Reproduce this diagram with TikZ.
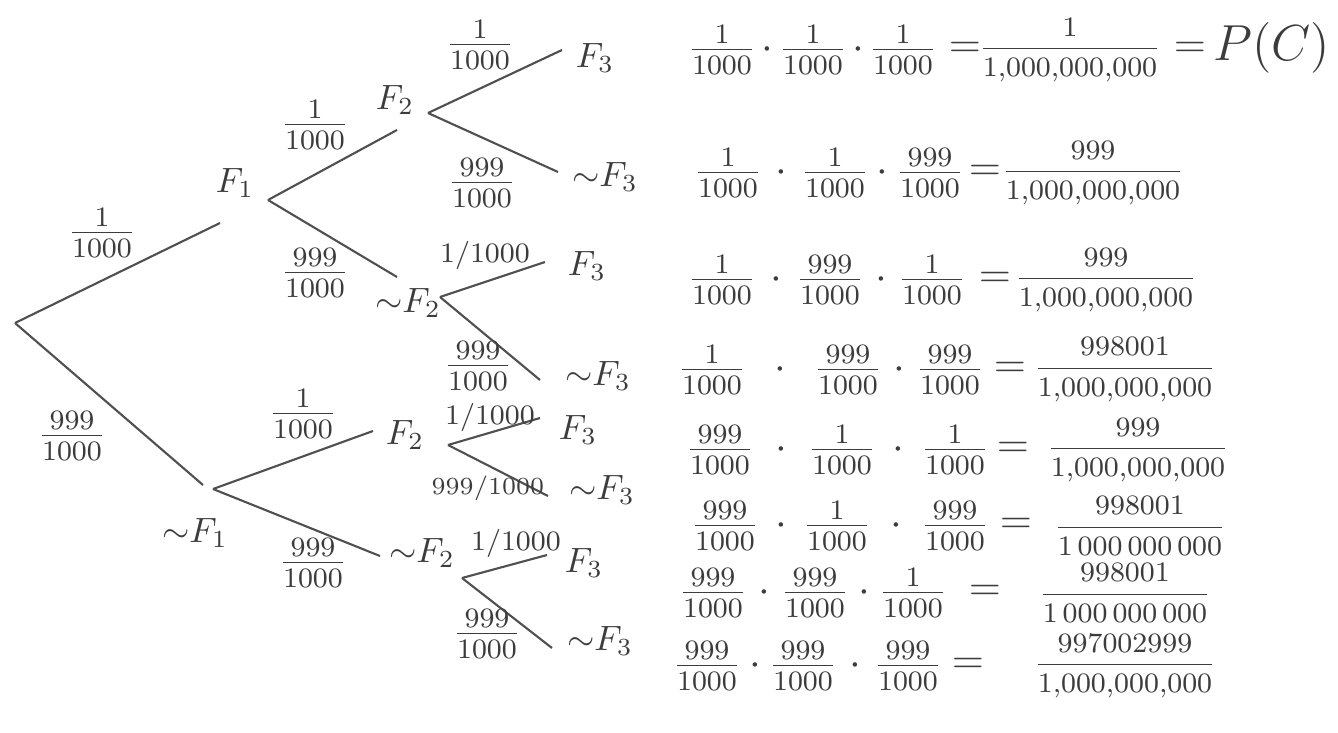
\documentclass[tikz,border=0pt]{standalone}
\usepackage{amsmath,amssymb}
\usepackage{xcolor}
\usepackage{tikz}
\usetikzlibrary{calc}
\definecolor{pencil}{RGB}{60,60,60}
\definecolor{pencilLine}{RGB}{80,80,80}

\begin{document}
\begin{tikzpicture}[x=0.01cm,y=-0.01cm,
  branch/.style={draw=pencilLine,line width=0.6pt},
  event/.style={font=\normalsize,text=pencil,inner sep=1pt},
  prob/.style={font=\large,text=pencil,inner sep=1pt},
  slashprob/.style={font=\footnotesize,text=pencil,inner sep=1pt},
  factor/.style={font=\large,text=pencil,inner sep=1pt},
  result/.style={font=\footnotesize,text=pencil,inner sep=1pt}]

\useasboundingbox (0,0) rectangle (1338,733);

% ===== LEVEL 1: first fire =====
\coordinate (root) at (15,323);
\coordinate (inF1) at (220,223);
\coordinate (outF1) at (268,200);
\coordinate (inNF1) at (203,485);
\coordinate (outNF1) at (213,489);
\node[event] (F1) at (235,183) {$F_1$};
\node[event] (NF1) at (195,533) {${\sim}F_1$};
\draw[branch] (root) -- (inF1);
\draw[branch] (root) -- (inNF1);
\node[prob] (pF1) at (102,233) {$\frac{1}{1000}$};
\node[prob] (pNF1) at (72,436) {$\frac{999}{1000}$};

% ===== LEVEL 2: after F1 =====
\coordinate (inF2a) at (397,130);
\coordinate (outF2a) at (428,113);
\coordinate (inNF2a) at (397,277);
\coordinate (outNF2a) at (440,297);
\node[event] (F2a) at (395,100) {$F_2$};
\node[event] (NF2a) at (408,303) {${\sim}F_2$};
\draw[branch] (outF1) -- (inF2a);
\draw[branch] (outF1) -- (inNF2a);
\node[prob] (pF2a) at (315,125) {$\frac{1}{1000}$};
\node[prob] (pNF2a) at (315,273) {$\frac{999}{1000}$};

% ===== LEVEL 2: after ~F1 =====
\coordinate (inF2b) at (373,431);
\coordinate (outF2b) at (448,445);
\coordinate (inNF2b) at (380,556);
\coordinate (outNF2b) at (462,578);
\node[event] (F2b) at (405,435) {$F_2$};
\node[event] (NF2b) at (422,553) {${\sim}F_2$};
\draw[branch] (outNF1) -- (inF2b);
\draw[branch] (outNF1) -- (inNF2b);
\node[prob] (pF2b) at (303,414) {$\frac{1}{1000}$};
\node[prob] (pNF2b) at (313,563) {$\frac{999}{1000}$};

% ===== LEVEL 3: third fire =====
\coordinate (inF3a) at (562,50);
\coordinate (inNF3a) at (558,172);
\node[event] (F3a) at (595,58) {$F_3$};
\node[event] (NF3a) at (605,177) {${\sim}F_3$};
\draw[branch] (outF2a) -- (inF3a);
\draw[branch] (outF2a) -- (inNF3a);
\node[prob] (pF3a) at (480,45) {$\frac{1}{1000}$};
\node[prob] (pNF3a) at (482,183) {$\frac{999}{1000}$};

\coordinate (inF3b) at (545,262);
\coordinate (inNF3b) at (540,380);
\node[event] (F3b) at (587,266) {$F_3$};
\node[event] (NF3b) at (598,376) {${\sim}F_3$};
\draw[branch] (outNF2a) -- (inF3b);
\draw[branch] (outNF2a) -- (inNF3b);
\node[slashprob] (pF3b) at (485,255) {$1/1000$};
\node[prob] (pNF3b) at (478,366) {$\frac{999}{1000}$};

\coordinate (inF3c) at (540,418);
\coordinate (inNF3c) at (548,496);
\node[event] (F3c) at (578,430) {$F_3$};
\node[event] (NF3c) at (602,490) {${\sim}F_3$};
\draw[branch] (outF2b) -- (inF3c);
\draw[branch] (outF2b) -- (inNF3c);
\node[slashprob] (pF3c) at (490,417) {$1/1000$};
\node[slashprob,font=\scriptsize] (pNF3c) at (488,488) {$999/1000$};

\coordinate (inF3d) at (547,555);
\coordinate (inNF3d) at (552,648);
\node[event] (F3d) at (584,563) {$F_3$};
\node[event] (NF3d) at (600,641) {${\sim}F_3$};
\draw[branch] (outNF2b) -- (inF3d);
\draw[branch] (outNF2b) -- (inNF3d);
\node[slashprob] (pF3d) at (516,543) {$1/1000$};
\node[prob] (pNF3d) at (487,634) {$\frac{999}{1000}$};

% ===== RIGHT COLUMN: path products =====
\node[factor] (r1a) at (722,50) {$\frac{1}{1000}$};
\node[factor] (r1b) at (813,50) {$\frac{1}{1000}$};
\node[factor] (r1c) at (903,50) {$\frac{1}{1000}$};
\node[factor] (r1d) at ($(r1a)!0.5!(r1b)$) {$\cdot$};
\node[factor] (r1e) at ($(r1b)!0.5!(r1c)$) {$\cdot$};
\node[factor] (r1f) at (965,50) {$=$};
\node[result] (r1g) at (1070,50) {$\dfrac{1}{1{,}000{,}000{,}000}$};
\node[factor] (r1h) at (1190,50) {$=$};
\node[font=\Large,text=pencil] (pc) at (1272,48) {$P(C)$};

\node[factor] (r2a) at (728,173) {$\frac{1}{1000}$};
\node[factor] (r2b) at (835,173) {$\frac{1}{1000}$};
\node[factor] (r2c) at (930,173) {$\frac{999}{1000}$};
\node[factor] (r2d) at ($(r2a)!0.5!(r2b)$) {$\cdot$};
\node[factor] (r2e) at ($(r2b)!0.5!(r2c)$) {$\cdot$};
\node[factor] (r2f) at (985,173) {$=$};
\node[result] (r2g) at (1093,173) {$\dfrac{999}{1{,}000{,}000{,}000}$};

\node[factor] (r3a) at (722,280) {$\frac{1}{1000}$};
\node[factor] (r3b) at (830,280) {$\frac{999}{1000}$};
\node[factor] (r3c) at (932,280) {$\frac{1}{1000}$};
\node[factor] (r3d) at ($(r3a)!0.5!(r3b)$) {$\cdot$};
\node[factor] (r3e) at ($(r3b)!0.5!(r3c)$) {$\cdot$};
\node[factor] (r3f) at (995,280) {$=$};
\node[result] (r3g) at (1106,280) {$\dfrac{999}{1{,}000{,}000{,}000}$};

\node[factor] (r4a) at (712,370) {$\frac{1}{1000}$};
\node[factor] (r4b) at (848,370) {$\frac{999}{1000}$};
\node[factor] (r4c) at (950,370) {$\frac{999}{1000}$};
\node[factor] (r4d) at ($(r4a)!0.5!(r4b)$) {$\cdot$};
\node[factor] (r4e) at ($(r4b)!0.5!(r4c)$) {$\cdot$};
\node[factor] (r4f) at (1010,370) {$=$};
\node[result] (r4g) at (1125,370) {$\dfrac{998001}{1{,}000{,}000{,}000}$};

\node[factor] (r5a) at (720,450) {$\frac{999}{1000}$};
\node[factor] (r5b) at (842,450) {$\frac{1}{1000}$};
\node[factor] (r5c) at (955,450) {$\frac{1}{1000}$};
\node[factor] (r5d) at ($(r5a)!0.5!(r5b)$) {$\cdot$};
\node[factor] (r5e) at ($(r5b)!0.5!(r5c)$) {$\cdot$};
\node[factor] (r5f) at (1013,450) {$=$};
\node[result] (r5g) at (1138,450) {$\dfrac{999}{1{,}000{,}000{,}000}$};

\node[factor] (r6a) at (725,526) {$\frac{999}{1000}$};
\node[factor] (r6b) at (837,526) {$\frac{1}{1000}$};
\node[factor] (r6c) at (955,526) {$\frac{999}{1000}$};
\node[factor] (r6d) at ($(r6a)!0.5!(r6b)$) {$\cdot$};
\node[factor] (r6e) at ($(r6b)!0.5!(r6c)$) {$\cdot$};
\node[factor] (r6f) at (1016,526) {$=$};
\node[result] (r6g) at (1140,526) {$\dfrac{998001}{1\,000\,000\,000}$};

\node[factor] (r7a) at (713,593) {$\frac{999}{1000}$};
\node[factor] (r7b) at (815,593) {$\frac{999}{1000}$};
\node[factor] (r7c) at (913,593) {$\frac{1}{1000}$};
\node[factor] (r7d) at ($(r7a)!0.5!(r7b)$) {$\cdot$};
\node[factor] (r7e) at ($(r7b)!0.5!(r7c)$) {$\cdot$};
\node[factor] (r7f) at (985,593) {$=$};
\node[result] (r7g) at (1125,593) {$\dfrac{998001}{1\,000\,000\,000}$};

\node[factor] (r8a) at (707,666) {$\frac{999}{1000}$};
\node[factor] (r8b) at (803,666) {$\frac{999}{1000}$};
\node[factor] (r8c) at (908,666) {$\frac{999}{1000}$};
\node[factor] (r8d) at ($(r8a)!0.5!(r8b)$) {$\cdot$};
\node[factor] (r8e) at ($(r8b)!0.5!(r8c)$) {$\cdot$};
\node[factor] (r8f) at (968,666) {$=$};
\node[result] (r8g) at (1125,666) {$\dfrac{997002999}{1{,}000{,}000{,}000}$};
\end{tikzpicture}
\end{document}
